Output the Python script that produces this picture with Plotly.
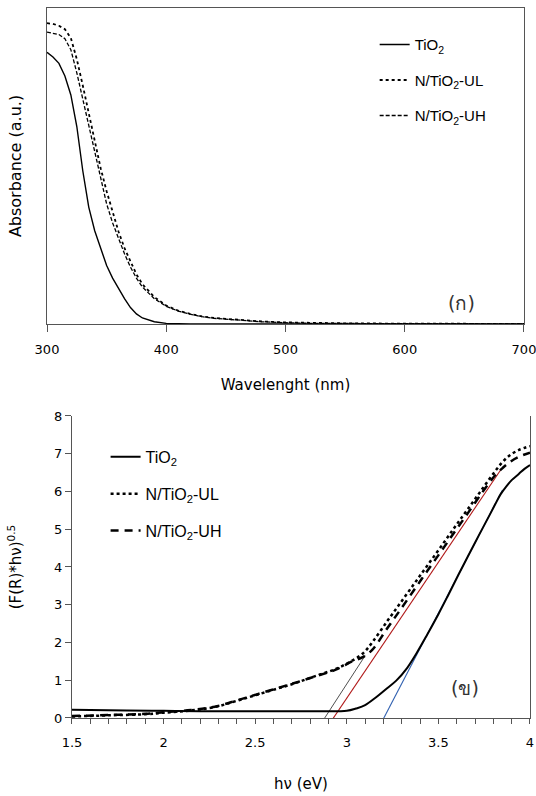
import plotly.graph_objects as go

# ---------------- Panel (ก): absorbance spectra ----------------
wavelength = [300, 305, 310, 315, 320, 325, 330, 335, 340, 345, 350, 355, 360, 365, 370,
              375, 380, 390, 400, 410, 420, 430, 440, 450, 460, 480, 500, 520, 550, 600, 650, 700]
abs_tio2 = [0.860, 0.845, 0.825, 0.785, 0.725, 0.625, 0.485, 0.370, 0.295, 0.238, 0.185, 0.145,
            0.110, 0.080, 0.052, 0.032, 0.019, 0.007, 0.002, 0.0005, 0, 0, 0, 0, 0, 0, 0, 0, 0, 0, 0, 0]
abs_ul = [0.952, 0.950, 0.944, 0.933, 0.905, 0.838, 0.755, 0.670, 0.578, 0.493, 0.420, 0.352,
          0.292, 0.240, 0.196, 0.157, 0.126, 0.085, 0.058, 0.042, 0.032, 0.024, 0.019, 0.016,
          0.013, 0.008, 0.005, 0.003, 0.002, 0.001, 0.0005, 0.0003]
abs_uh = [0.924, 0.921, 0.916, 0.903, 0.868, 0.795, 0.712, 0.625, 0.537, 0.455, 0.380, 0.320,
          0.270, 0.222, 0.180, 0.145, 0.117, 0.080, 0.056, 0.041, 0.031, 0.023, 0.018, 0.015,
          0.012, 0.007, 0.004, 0.002, 0.0015, 0.001, 0.0005, 0.0003]
wl_ticks = [300, 400, 500, 600, 700]

# ---------------- Panel (ข): Tauc plot ----------------
hv_tio2 = [1.5, 1.8, 2.0, 2.2, 2.5, 2.8, 3.0, 3.05, 3.10, 3.16, 3.22, 3.27, 3.33, 3.38, 3.44,
           3.50, 3.55, 3.61, 3.66, 3.72, 3.78, 3.81, 3.84, 3.87, 3.90, 3.94, 3.97, 4.0]
tauc_tio2 = [0.22, 0.20, 0.19, 0.18, 0.18, 0.18, 0.19, 0.25, 0.34, 0.55, 0.79, 0.99, 1.33, 1.71,
             2.22, 2.75, 3.22, 3.80, 4.27, 4.83, 5.38, 5.66, 5.93, 6.13, 6.30, 6.47, 6.60, 6.70]
hv_n = [1.5, 1.7, 1.9, 2.0, 2.15, 2.28, 2.41, 2.56, 2.71, 2.84, 2.94, 3.03, 3.09, 3.14, 3.22,
        3.29, 3.37, 3.44, 3.52, 3.59, 3.66, 3.74, 3.81, 3.85, 3.89, 3.94, 4.0]
tauc_ul = [0.04, 0.07, 0.10, 0.14, 0.20, 0.29, 0.47, 0.69, 0.91, 1.13, 1.30, 1.52, 1.72, 2.01,
           2.56, 3.03, 3.57, 4.04, 4.58, 5.06, 5.53, 6.07, 6.54, 6.78, 6.96, 7.10, 7.20]
tauc_uh = [0.05, 0.08, 0.11, 0.15, 0.21, 0.30, 0.48, 0.70, 0.92, 1.12, 1.28, 1.50, 1.62, 1.81,
           2.37, 2.85, 3.41, 3.90, 4.45, 4.94, 5.42, 5.98, 6.43, 6.62, 6.78, 6.92, 7.03]
hv_ticks = [1.5, 2, 2.5, 3, 3.5, 4]
hv_ticktext = ["1.5", "2", "2.5", "3", "3.5", "4"]

# tangent (band-gap extrapolation) lines
tan_ul_x, tan_ul_y = [2.87, 3.10], [-0.07, 1.65]
tan_uh_x, tan_uh_y = [2.92, 3.845], [-0.05, 6.61]
tan_tio2_x, tan_tio2_y = [3.20, 3.85], [-0.02, 6.04]

FONT = "DejaVu Sans"
LEG_FONT = "Liberation Sans"
fig = go.Figure()

# top panel traces
fig.add_trace(go.Scatter(x=wavelength, y=abs_tio2, mode="lines", name="TiO<sub>2</sub>",
                         line=dict(color="black", width=1.4, dash="solid"),
                         xaxis="x", yaxis="y", legend="legend", legendgroup="a1"))
fig.add_trace(go.Scatter(x=wavelength, y=abs_ul, mode="lines", name="N/TiO<sub>2</sub>-UL",
                         line=dict(color="black", width=1.8, dash="dot"),
                         xaxis="x", yaxis="y", legend="legend", legendgroup="a2"))
fig.add_trace(go.Scatter(x=wavelength, y=abs_uh, mode="lines", name="N/TiO<sub>2</sub>-UH",
                         line=dict(color="black", width=1.3, dash="4px,2px"),
                         xaxis="x", yaxis="y", legend="legend", legendgroup="a3"))

# bottom panel tangents (drawn under curves)
fig.add_trace(go.Scatter(x=tan_ul_x, y=tan_ul_y, mode="lines", showlegend=False,
                         line=dict(color="#505050", width=1), xaxis="x2", yaxis="y2"))
fig.add_trace(go.Scatter(x=tan_uh_x, y=tan_uh_y, mode="lines", showlegend=False,
                         line=dict(color="#b01818", width=1.1), xaxis="x2", yaxis="y2"))
fig.add_trace(go.Scatter(x=tan_tio2_x, y=tan_tio2_y, mode="lines", showlegend=False,
                         line=dict(color="#3060b0", width=1.1), xaxis="x2", yaxis="y2"))

fig.add_trace(go.Scatter(x=hv_tio2, y=tauc_tio2, mode="lines", name="TiO<sub>2</sub>",
                         line=dict(color="black", width=2, dash="solid", shape="spline"),
                         xaxis="x2", yaxis="y2", legend="legend2", legendgroup="b1"))
fig.add_trace(go.Scatter(x=hv_n, y=tauc_ul, mode="lines", name="N/TiO<sub>2</sub>-UL",
                         line=dict(color="black", width=2.5, dash="dot", shape="spline"),
                         xaxis="x2", yaxis="y2", legend="legend2", legendgroup="b2"))
fig.add_trace(go.Scatter(x=hv_n, y=tauc_uh, mode="lines", name="N/TiO<sub>2</sub>-UH",
                         line=dict(color="black", width=2.5, dash="8px,6px", shape="spline"),
                         xaxis="x2", yaxis="y2", legend="legend2", legendgroup="b3"))

axis_line = dict(showline=True, linecolor="#555555", linewidth=1, showgrid=False,
                 zeroline=False, automargin=False)

fig.update_layout(
    width=536, height=796,
    margin=dict(l=0, r=0, t=0, b=0),
    paper_bgcolor="white", plot_bgcolor="white",
    font=dict(family=FONT, size=13, color="black"),
    xaxis=dict(domain=[0.0877, 0.9776], anchor="y", range=[300, 700], tickvals=wl_ticks,
               ticks="outside", ticklen=7, tickcolor="#555555", mirror=True,
               ticklabelstandoff=6, ticklabeloverflow="allow",
               title=dict(text="Wavelenght (nm)", font=dict(size=15), standoff=23),
               **axis_line),
    yaxis=dict(domain=[0.5930, 0.9899], anchor="x", range=[0, 1.0], showticklabels=False,
               ticks="", mirror=True,
               title=dict(text="Absorbance (a.u.)", font=dict(size=16), standoff=20),
               **axis_line),
    xaxis2=dict(domain=[0.1343, 0.9888], anchor="y2", range=[1.5, 4], tickvals=hv_ticks,
                ticktext=hv_ticktext, ticklabeloverflow="allow",
                ticks="outside", ticklen=5, tickcolor="#555555", ticklabelstandoff=7,
                minor=dict(dtick=0.1, tick0=1.5, ticks="outside", ticklen=5, tickcolor="#555555"),
                title=dict(text="hν (eV)", font=dict(size=15), standoff=29),
                **axis_line),
    yaxis2=dict(domain=[0.0980, 0.4774], anchor="x2", range=[0, 8], dtick=1,
                ticks="outside", ticklen=6, tickcolor="#555555", mirror=True,
                title=dict(text="(F(R)*hν)<sup>0.5</sup>", font=dict(size=15), standoff=28),
                **axis_line),
    legend=dict(x=0.699, y=0.9645, xanchor="left", yanchor="top", bgcolor="rgba(0,0,0,0)",
                font=dict(family=LEG_FONT, size=15), itemwidth=30,
                traceorder="grouped", tracegroupgap=13),
    legend2=dict(x=0.197, y=0.4473, xanchor="left", yanchor="top", bgcolor="rgba(0,0,0,0)",
                 font=dict(family=LEG_FONT, size=16), itemwidth=30,
                 traceorder="grouped", tracegroupgap=13),
    annotations=[
        dict(text="(ก)", x=648, y=0.065, xref="x", yref="y", showarrow=False,
             font=dict(size=19, color="#333333")),
        dict(text="(ข)", x=3.645, y=0.8, xref="x2", yref="y2", showarrow=False,
             font=dict(size=19, color="#333333")),
    ],
)

fig.write_html("out.html", config={"displayModeBar": False},
               post_script="document.body.style.margin='0';"
               "document.body.style.overflow='hidden';")
